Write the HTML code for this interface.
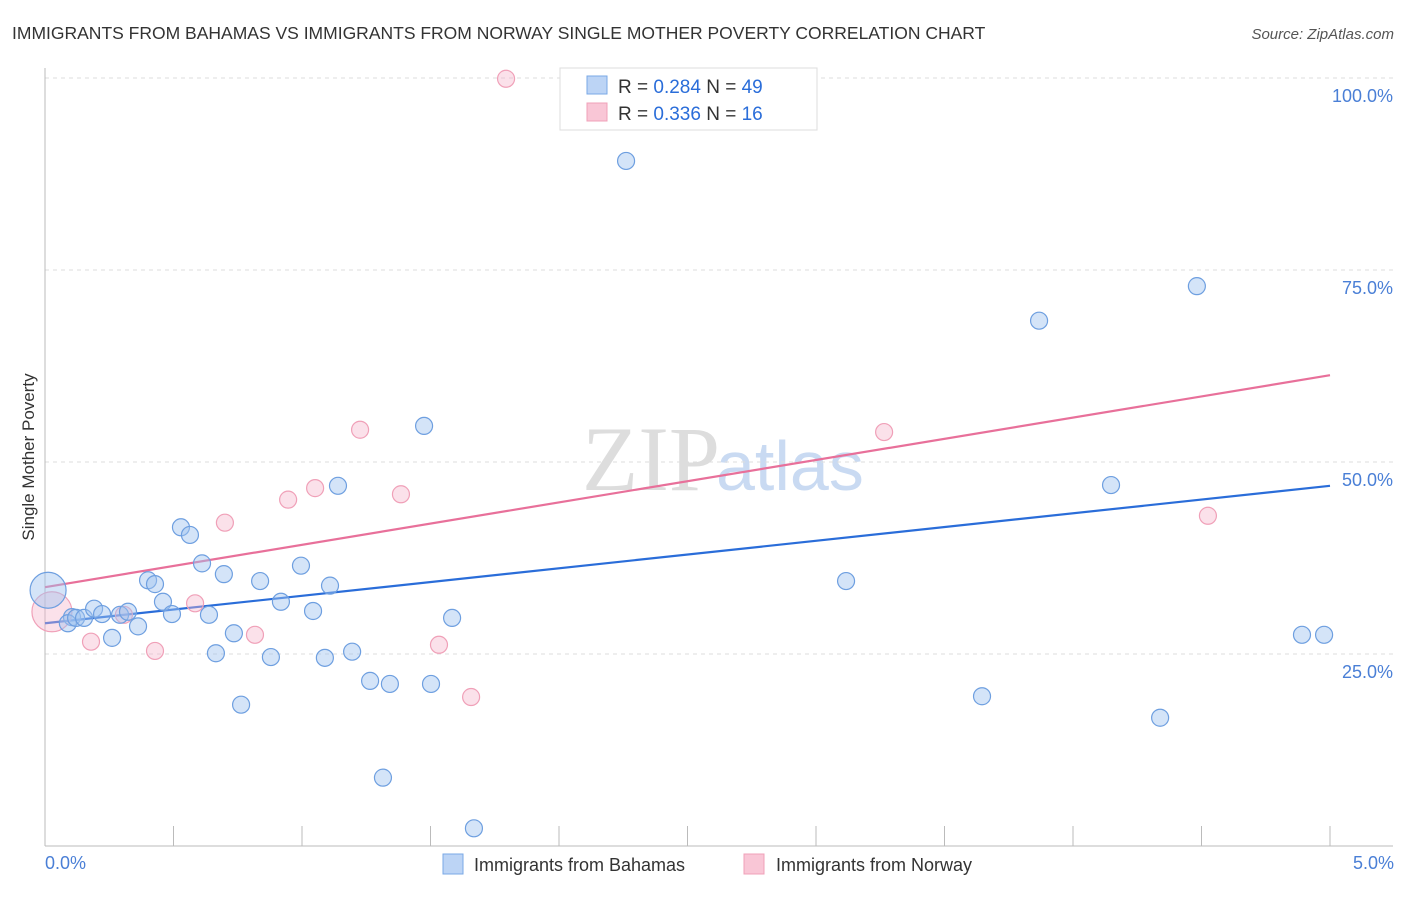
<!DOCTYPE html>
<html><head><meta charset="utf-8"><style>
body{margin:0;background:#fff;font-family:"Liberation Sans",sans-serif}
</style></head><body>
<svg width="1406" height="892" xmlns="http://www.w3.org/2000/svg" font-family="Liberation Sans, sans-serif">
<text x="12" y="39" font-size="17.5" fill="#333">IMMIGRANTS FROM BAHAMAS VS IMMIGRANTS FROM NORWAY SINGLE MOTHER POVERTY CORRELATION CHART</text>
<text x="1394" y="39" font-size="15" fill="#555" text-anchor="end" font-style="italic">Source: ZipAtlas.com</text>
<text x="720" y="490" font-size="92" fill="#ddd" text-anchor="end" font-family="Liberation Serif, serif">ZIP</text>
<text x="716" y="490" font-size="70" fill="#c9daf2">atlas</text>
<g id="grid"></g>
<line x1="45" y1="68" x2="45" y2="846" stroke="#bbb"/>
<line x1="45" y1="846" x2="1393" y2="846" stroke="#bbb"/>
<text transform="translate(34,457) rotate(-90)" font-size="17" fill="#333" text-anchor="middle">Single Mother Poverty</text>
<text x="45" y="869" font-size="18" fill="#4a7fd6">0.0%</text>
<text x="1394" y="869" font-size="18" fill="#4a7fd6" text-anchor="end">5.0%</text>
<g id="lines"></g>
<g id="pts"></g>
<g>
<rect x="560" y="68" width="257" height="62" fill="#fff" stroke="#ddd"/>
<rect x="587" y="76" width="20" height="18" fill="#bcd4f5" stroke="#7aa8e6"/>
<rect x="587" y="103" width="20" height="18" fill="#f9c6d6" stroke="#f0a0b8"/>
<text x="618" y="93" font-size="19" fill="#333">R = <tspan fill="#2a6dd9">0.284</tspan>   N = <tspan fill="#2a6dd9">49</tspan></text>
<text x="618" y="120" font-size="19" fill="#333">R = <tspan fill="#2a6dd9">0.336</tspan>   N = <tspan fill="#2a6dd9"> 16</tspan></text>
</g>
<g>
<rect x="443" y="854" width="20" height="20" fill="#bcd4f5" stroke="#7aa8e6"/>
<text x="474" y="871" font-size="18" fill="#333">Immigrants from Bahamas</text>
<rect x="744" y="854" width="20" height="20" fill="#f9c6d6" stroke="#f0a0b8"/>
<text x="776" y="871" font-size="18" fill="#333">Immigrants from Norway</text>
</g>
</svg>
<script>
const yTicks=[25,50,75,100];
const yTickLabels=["25.0%","50.0%","75.0%","100.0%"];
const xTicks=[0.5,1,1.5,2,2.5,3,3.5,4,4.5,5];
const bahamasX=[0.012,0.105,0.089,0.121,0.152,0.191,0.222,0.261,0.292,0.323,0.362,0.401,0.428,0.459,0.494,0.529,0.564,0.611,0.638,0.665,0.696,0.735,0.763,0.837,0.879,0.918,0.996,1.043,1.089,1.109,1.140,1.195,1.265,1.315,1.342,1.475,1.502,1.584,1.669,2.261,2.953,3.117,3.646,3.868,4.148,4.339,4.482,4.891,4.977];
const bahamasY=[33.3,29.8,29.0,29.7,29.7,30.9,30.2,27.1,30.1,30.5,28.6,34.6,34.1,31.8,30.2,41.5,40.5,36.8,30.1,25.1,35.4,27.7,18.4,34.5,24.6,31.8,36.5,30.6,24.5,33.9,46.9,25.3,21.5,8.9,21.1,54.7,21.1,29.7,2.3,89.2,99.7,34.5,19.5,68.4,47.0,16.7,72.9,27.5,27.5];
const norwayX=[0.027,0.179,0.307,0.428,0.584,0.700,0.817,0.946,1.051,1.226,1.385,1.533,1.658,1.794,3.265,4.525];
const norwayY=[30.5,26.6,30.1,25.4,31.6,42.1,27.5,45.1,46.6,54.2,45.8,26.2,19.4,99.9,53.9,43.0];
const bahamasTrend=[29.0,46.9];
const norwayTrend=[33.7,61.3];
const NS="http://www.w3.org/2000/svg";
const sx=v=>45+v/5*1285;
const sy=v=>846-v*7.68;
function mk(tag,attrs,parent){const e=document.createElementNS(NS,tag);for(const k in attrs)e.setAttribute(k,attrs[k]);parent.appendChild(e);return e;}
const grid=document.getElementById('grid');
yTicks.forEach((t,i)=>{
 const l=mk('line',{x1:45,x2:1393,y1:sy(t),y2:sy(t),stroke:'#ddd','stroke-dasharray':'4,4'},grid);
 
 
 const tx=mk('text',{x:1393,y:sy(t)+24,'font-size':18,fill:'#4a7fd6','text-anchor':'end'},grid);
 tx.textContent=yTickLabels[i];
 
 
});
xTicks.forEach(t=>{
 const l=mk('line',{x1:sx(t),x2:sx(t),y1:826,y2:846,stroke:'#bbb'},grid);
 
 
});
const lines=document.getElementById('lines');
const lb=mk('line',{x1:sx(0),x2:sx(5),y1:sy(bahamasTrend[0]),y2:sy(bahamasTrend[1]),stroke:'#2a6dd9','stroke-width':2.2},lines);


const ln=mk('line',{x1:sx(0),x2:sx(5),y1:sy(norwayTrend[0]),y2:sy(norwayTrend[1]),stroke:'#e8709a','stroke-width':2.2},lines);


const pts=document.getElementById('pts');
norwayX.forEach((x,i)=>{
 const c=mk('circle',{cx:sx(x),cy:sy(norwayY[i]),r:i===0?20:8.5,fill:'rgba(246,180,202,0.4)',stroke:'#f0a0b8','stroke-width':1.2},pts);
 
 
});
bahamasX.forEach((x,i)=>{
 const c=mk('circle',{cx:sx(x),cy:sy(bahamasY[i]),r:i===0?18:8.5,fill:'rgba(160,196,240,0.45)',stroke:'#6e9fe0','stroke-width':1.2},pts);
 
 
});
</script>
</body></html>
